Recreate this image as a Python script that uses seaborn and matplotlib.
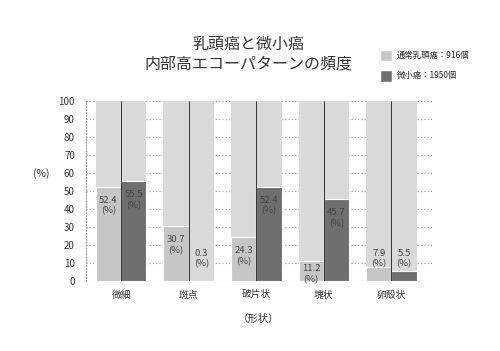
import pandas as pd
import matplotlib.pyplot as plt
import seaborn as sns
from matplotlib.patches import Patch

sns.set_theme(style="white")
plt.rcParams['font.family'] = ['Noto Sans CJK JP', 'DejaVu Sans']

# data
shapes = ['微細', '斑点', '破片状', '塊状', '卵殻状']
series_names = ['通常乳頭癌：916個', '微小癌：1950個']
papillary = [52.4, 30.7, 24.3, 11.2, 7.9]
micro = [55.5, 0.3, 52.4, 45.7, 5.5]

df = pd.DataFrame({
    'shape': shapes * 2,
    'group': [series_names[0]] * len(shapes) + [series_names[1]] * len(shapes),
    'value': papillary + micro,
})
df['full'] = 100.0

fig = plt.figure(figsize=(5.0, 3.51), dpi=100)
ax = fig.add_axes([0.172, 0.199, 0.692, 0.513])

# background 100% bars
sns.barplot(data=df, x='shape', y='full', hue='group', order=shapes,
            hue_order=series_names, palette=['#d9d9d9', '#d9d9d9'],
            width=0.75, gap=0, saturation=1, linewidth=0, legend=False, ax=ax)
# value bars
sns.barplot(data=df, x='shape', y='value', hue='group', order=shapes,
            hue_order=series_names, palette=['#c6c6c6', '#6f6f6f'],
            width=0.75, saturation=1, edgecolor='white', linewidth=0.8,
            legend=False, ax=ax)

# separator lines between the pair
ax.vlines(range(len(shapes)), 0, 100, color='#333333', linewidth=0.7, zorder=3)

# value labels
offsets = [-0.1875, 0.1875]
for k, vals in enumerate([papillary, micro]):
    for i, v in enumerate(vals):
        top = max(v - 5, 9.5) if v >= 10 else 18
        ax.text(i + offsets[k], top, f'{v}\n(%)', ha='center', va='top',
                fontsize=6.8, color='#444444', linespacing=1.25, zorder=4)

ax.set_ylim(0, 100)
ax.set_xlim(-0.52, 4.6)
ax.set_yticks(range(0, 101, 10))
ax.yaxis.grid(True, linestyle=':', color='#b8a888', linewidth=0.9)
ax.set_axisbelow(True)
for s in ['top', 'right', 'bottom']:
    ax.spines[s].set_visible(False)
ax.spines['left'].set_linestyle(':')
ax.spines['left'].set_color('#999999')
ax.spines['left'].set_linewidth(0.8)
ax.tick_params(axis='both', length=0, labelsize=7, colors='#333333')
ax.tick_params(axis='y', pad=8)
ax.tick_params(axis='x', pad=6)
ax.set_xlabel('（形状）', fontsize=7.5, color='#333333', labelpad=10)
ax.set_ylabel('(%)', fontsize=7.5, color='#333333', rotation=0, labelpad=14)
ax.yaxis.set_label_coords(-0.13, 0.57)

fig.text(0.497, 0.845, '乳頭癌と微小癌\n内部高エコーパターンの頻度', ha='center',
         va='center', fontsize=11.5, color='#333333', linespacing=1.2)

handles = [Patch(facecolor='#c6c6c6'), Patch(facecolor='#6f6f6f')]
fig.legend(handles, series_names, loc='upper left', bbox_to_anchor=(0.745, 0.88),
           frameon=False, fontsize=6, handlelength=1.4, handleheight=1.8,
           labelspacing=1.0, handletextpad=0.6)

fig.savefig('out.png', dpi=100, facecolor='white')
